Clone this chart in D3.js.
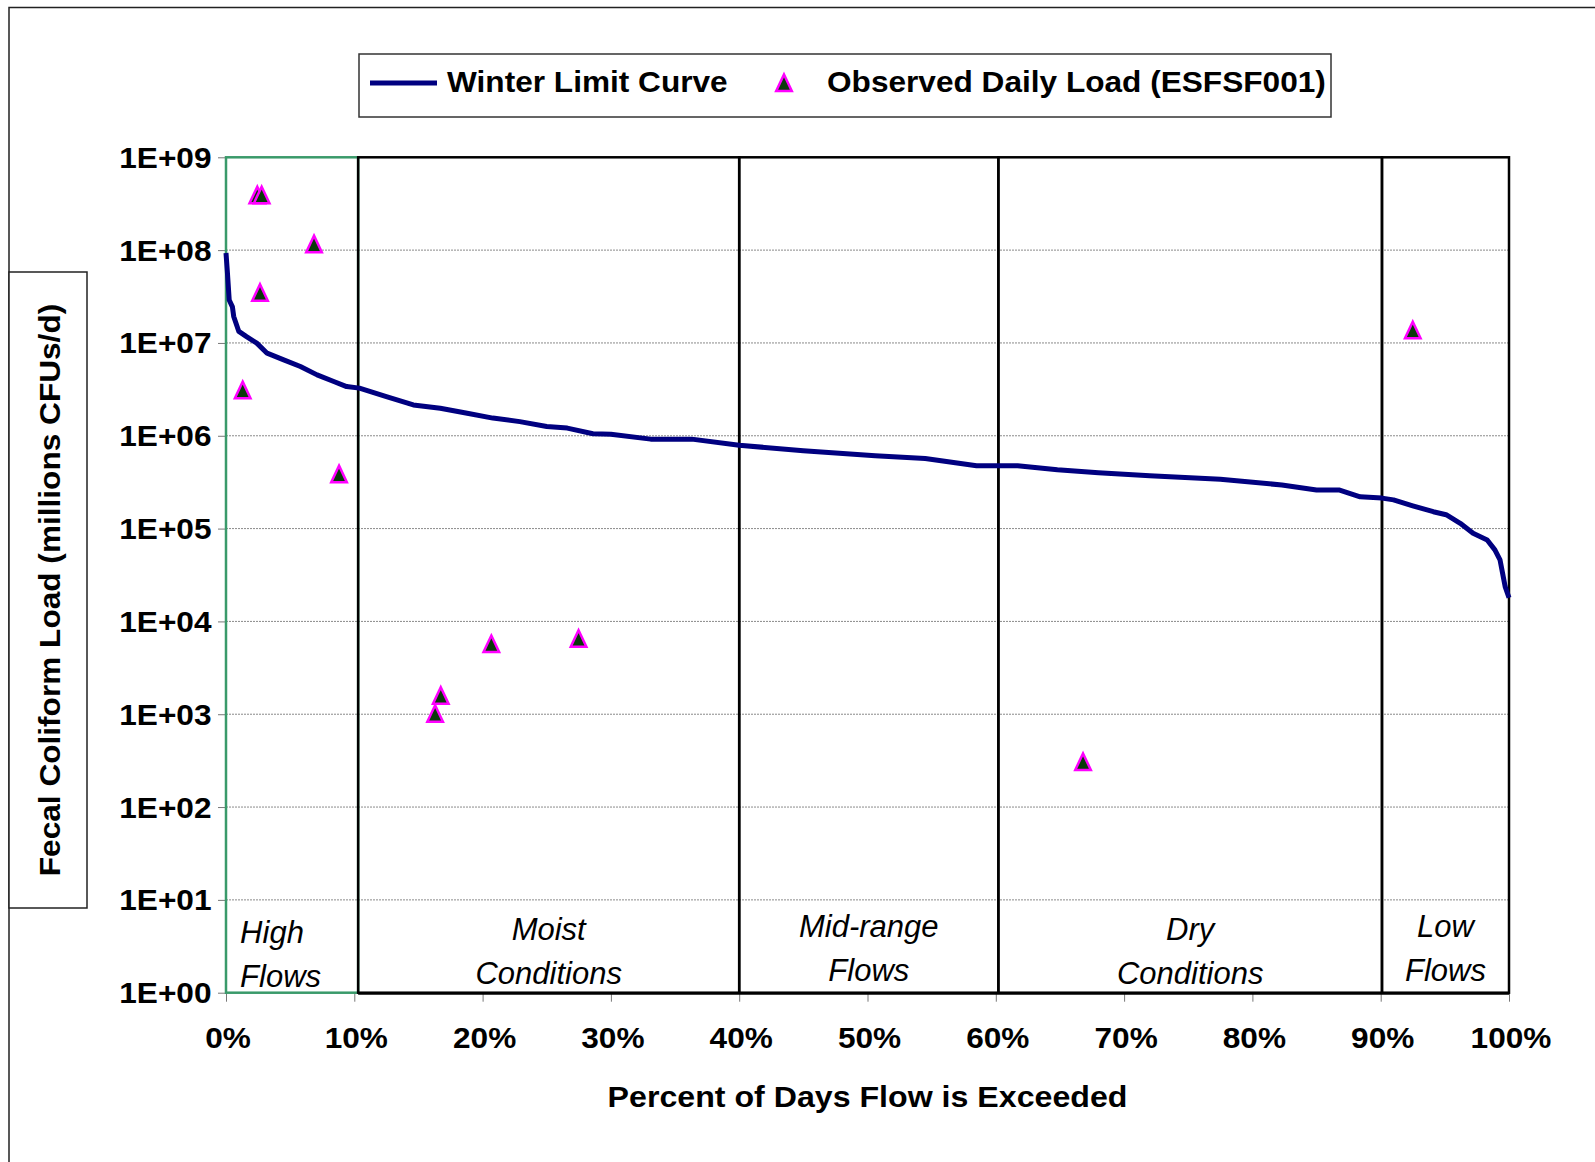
<!DOCTYPE html>
<html><head><meta charset="utf-8">
<script src="https://cdn.jsdelivr.net/npm/d3@7"></script>
<style>body{margin:0;background:#fff} svg{display:block}</style>
</head><body>
<svg id="c" width="1595" height="1162"></svg>
<script>
// ---------- data ----------
const curvePct  = [0, 0.1, 0.25, 0.5, 0.6, 1.0, 1.6, 2.4, 3.2, 4.5, 5.8, 7.1, 8.4, 9.4, 10.4, 12.5, 14.6, 16.7, 18.8, 20.8, 22.9, 25, 26.6, 28.6, 30, 33.1, 36.3, 40, 45, 50.6, 54.5, 58.5, 61.7, 64.8, 68, 72, 77.5, 82.3, 85, 86.8, 88.4, 90.1, 91, 92.5, 94.1, 95.1, 96.2, 97.2, 98.3, 98.9, 99.3, 99.5, 99.7, 100];
const curveLoad = [9.3e7, 6e7, 2.9e7, 2.45e7, 1.93e7, 1.33e7, 1.17e7, 9.95e6, 7.76e6, 6.58e6, 5.57e6, 4.53e6, 3.84e6, 3.39e6, 3.26e6, 2.64e6, 2.15e6, 1.98e6, 1.75e6, 1.55e6, 1.42e6, 1.26e6, 1.21e6, 1.05e6, 1.04e6, 9.2e5, 9.2e5, 7.9e5, 6.9e5, 6.1e5, 5.7e5, 4.75e5, 4.75e5, 4.3e5, 4.0e5, 3.7e5, 3.4e5, 2.95e5, 2.6e5, 2.6e5, 2.2e5, 2.13e5, 2.04e5, 1.76e5, 1.52e5, 1.41e5, 1.14e5, 8.9e4, 7.55e4, 5.9e4, 4.6e4, 3.3e4, 2.37e4, 1.8e4];
const obsPct  = [1.30, 2.44, 2.78, 2.65, 6.86, 8.81, 16.3, 16.74, 20.68, 27.48, 66.8, 92.5];
const obsLoad = [3.1e6, 3.9e8, 3.9e8, 3.47e7, 1.16e8, 3.86e5, 1.01e3, 1.58e3, 5.7e3, 6.5e3, 306, 1.37e7];
const xTickValues = [0, 10, 20, 30, 40, 50, 60, 70, 80, 90, 100];
const yTickValues = [1, 10, 100, 1e3, 1e4, 1e5, 1e6, 1e7, 1e8, 1e9];
const bandEdges  = [0, 10.3, 40, 60.2, 90.1, 100];
const bandTop    = ["High", "Moist", "Mid-range", "Dry", "Low"];
const bandBottom = ["Flows", "Conditions", "Flows", "Conditions", "Flows"];
const legendLabels = ["Winter Limit Curve", "Observed Daily Load (ESFSF001)"];
const xTitle = "Percent of Days Flow is Exceeded";
const yTitle = "Fecal Coliform Load (millions CFUs/d)";

// ---------- layout ----------
const L = 226, R = 1509, T = 157.3, B = 992.7;
const FONT = "'Liberation Sans', Arial, sans-serif";
const SX = 1.09;
const svg = d3.select("#c");
const x = d3.scaleLinear().domain([0, 100]).range([L, R]);
const y = d3.scaleLog().domain([1, 1e9]).range([B, T]);

function label(g, px, py, s, o = {}) {
  return g.append("text")
    .attr("transform", `translate(${px},${py})` + (o.rot ? ` rotate(${o.rot})` : "") + ` scale(${o.sx || SX},1)`)
    .attr("font-family", FONT)
    .attr("font-size", o.size || 29)
    .attr("font-weight", o.weight || "bold")
    .attr("font-style", o.style || "normal")
    .attr("text-anchor", o.anchor || "start")
    .attr("fill", "#000")
    .text(s);
}

// outer border
svg.append("rect").attr("x", 9).attr("y", 7.5).attr("width", 1700).attr("height", 1300)
  .attr("fill", "none").attr("stroke", "#222").attr("stroke-width", 1.5);

// y title box
svg.append("rect").attr("x", 9).attr("y", 272).attr("width", 78).attr("height", 636)
  .attr("fill", "#fff").attr("stroke", "#222").attr("stroke-width", 1.5);
label(svg, 60, (272 + 908) / 2, yTitle, { rot: -90, anchor: "middle" });

// legend
function tri(cx, cy) {
  return `M${cx},${cy - 8.5} L${cx + 7.8},${cy + 8} L${cx - 7.8},${cy + 8} Z`;
}
const lg = svg.append("g");
lg.append("rect").attr("x", 359).attr("y", 54).attr("width", 972).attr("height", 63)
  .attr("fill", "#fff").attr("stroke", "#333").attr("stroke-width", 1.5);
lg.append("line").attr("x1", 370).attr("x2", 437).attr("y1", 83).attr("y2", 83)
  .attr("stroke", "#000080").attr("stroke-width", 5);
label(lg, 447, 92, legendLabels[0]);
lg.append("path").attr("d", tri(784, 83)).attr("fill", "#0a3a0a")
  .attr("stroke", "#ff00ff").attr("stroke-width", 2.5);
label(lg, 827, 92, legendLabels[1]);

// gridlines
svg.append("g").selectAll("line").data(yTickValues.filter(v => v > 1 && v < 1e9)).join("line")
  .attr("x1", L).attr("x2", R).attr("y1", d => y(d)).attr("y2", d => y(d))
  .attr("stroke", "#8a8a8a").attr("stroke-width", 1).attr("stroke-dasharray", "2,1");

// axes
const yAxis = svg.append("g").attr("transform", `translate(${L},0)`)
  .call(d3.axisLeft(y).tickValues(yTickValues).tickSize(8).tickFormat(() => ""));
yAxis.select(".domain").remove();
yAxis.selectAll(".tick line").attr("stroke", "#777");
yTickValues.forEach(v => {
  const e = Math.round(Math.log10(v));
  label(svg, 211.5, y(v) + 10.5, "1E+" + String(e).padStart(2, "0"), { anchor: "end" });
});

const xAxis = svg.append("g").attr("transform", `translate(0,${B})`)
  .call(d3.axisBottom(x).tickValues(xTickValues).tickSize(9).tickFormat(() => ""));
xAxis.select(".domain").remove();
xAxis.selectAll(".tick line").attr("stroke", "#777");
xTickValues.forEach(v => label(svg, x(v) + 2, 1048, v + "%", { anchor: "middle" }));

label(svg, (L + R) / 2, 1107, xTitle, { anchor: "middle", size: 29.5 });

// band boxes
const bands = bandTop.map((t, i) => ({ a: bandEdges[i], b: bandEdges[i + 1], t, u: bandBottom[i], i }));
svg.append("rect").attr("x", x(bands[0].a)).attr("y", T).attr("width", x(bands[0].b) - x(bands[0].a)).attr("height", B - T)
  .attr("fill", "none").attr("stroke", "#3a9a6a").attr("stroke-width", 2.5);
svg.append("g").selectAll("rect").data(bands.slice(1)).join("rect")
  .attr("x", d => x(d.a)).attr("y", T).attr("width", d => x(d.b) - x(d.a)).attr("height", B - T)
  .attr("fill", "none").attr("stroke", "#000").attr("stroke-width", 2.5);
svg.append("line").attr("x1", x(bandEdges[1])).attr("x2", R).attr("y1", B + 1).attr("y2", B + 1)
  .attr("stroke", "#000").attr("stroke-width", 2);

// band labels
bands.forEach(d => {
  const first = d.i === 0;
  const px = first ? x(d.a + 1.1) : x((d.a + d.b) / 2);
  const anchor = first ? "start" : "middle";
  const dy = first ? 3 : (d.i === 2 || d.i === 4 ? -3 : 0);
  label(svg, px, 940 + dy, d.t, { weight: "normal", style: "italic", size: 31, sx: 1.0, anchor });
  label(svg, px, 984 + dy, d.u, { weight: "normal", style: "italic", size: 31, sx: 1.0, anchor });
});

// curve
const line = d3.line().x((d, i) => x(curvePct[i])).y((d, i) => y(curveLoad[i]));
svg.append("path").datum(curvePct).attr("d", line)
  .attr("fill", "none").attr("stroke", "#000080").attr("stroke-width", 5).attr("stroke-linejoin", "round");

// observed points
svg.append("g").selectAll("path").data(obsPct).join("path")
  .attr("d", (d, i) => tri(x(d), y(obsLoad[i])))
  .attr("fill", "#0a3a0a").attr("stroke", "#ff00ff").attr("stroke-width", 2.5);
</script>
</body></html>
